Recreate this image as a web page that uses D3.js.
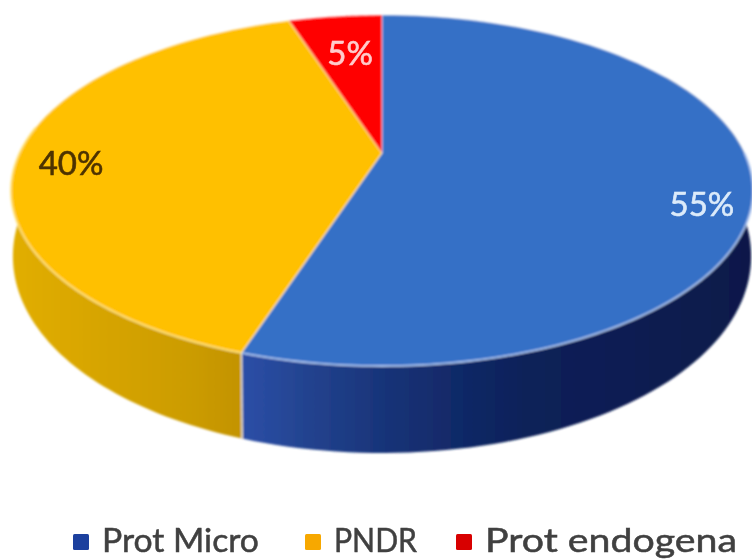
<!DOCTYPE html>
<html><head><meta charset="utf-8">
<script src="https://cdn.jsdelivr.net/npm/d3@7/dist/d3.min.js"></script>
<style>html,body{margin:0;padding:0;background:#fff}svg{display:block}text{font-family:Lato,sans-serif}</style>
</head><body><svg id="c" width="752" height="559"></svg>
<script>
const categories = ["Prot Micro","PNDR","Prot endogena"];
const values = [55,40,5];
const topColors = ["#3670c6","#ffc000","#ff0000"];
const rimColors = ["#a8c2ee","#ffe27a","#ff7a7a"];
const legendColors = ["#1f3f9e","#f7a800","#d80000"];
const labelColors = ["#dcebfa","#4d3200","#ffcccc"];

const svg = d3.select("#c");
const cx=382, cy=153, R=362.4, backA=167.5, k=-0.2137;
const lowScale=0.995;

function proj(a,r=1){ // a: clockwise from back of pie; r: fraction of radius
  const u=r*Math.sin(a), v=-r*Math.cos(a), w=1+k*v;
  return [cx+R*u/w, cy+backA*v/w];
}
function low(a){
  const p=proj(a), v=-Math.cos(a);
  return [cx+(p[0]-cx)*lowScale, cy+60+28*v+(p[1]-cy)*lowScale];
}
function samples(a0,a1,n=90){return d3.range(n+1).map(i=>a0+(a1-a0)*i/n);}
const line=d3.line();

const defs=svg.append("defs");
const f=defs.append("filter").attr("id","soft").attr("x","-5%").attr("y","-5%").attr("width","110%").attr("height","110%");
f.append("feGaussianBlur").attr("stdDeviation",0.9);
const f2=defs.append("filter").attr("id","softT").attr("x","-10%").attr("y","-30%").attr("width","120%").attr("height","160%");
f2.append("feGaussianBlur").attr("stdDeviation",0.6);

function grad(id,x1,x2,stops){
  const g=defs.append("linearGradient").attr("id",id).attr("gradientUnits","userSpaceOnUse")
    .attr("x1",x1).attr("x2",x2).attr("y1",0).attr("y2",0);
  stops.forEach(s=>g.append("stop").attr("offset",s[0]).attr("stop-color",s[1]));
}
grad("wall0",246,752,[[0,"#2b4ea6"],[0.12,"#23438f"],[0.3,"#163175"],[0.55,"#0c2159"],[1,"#07194a"]]);
grad("wall1",10,248,[[0,"#e2ae00"],[0.4,"#d6a400"],[0.75,"#cc9c00"],[1,"#c29200"]]);

const arcs=d3.pie().sort(null).value(d=>d)(values);
const g=svg.append("g").attr("filter","url(#soft)");

// side walls: only the slices that reach the front of the pie
const wallRange=[[Math.PI/3,arcs[0].endAngle],[arcs[1].startAngle,Math.PI*1.72]];
wallRange.forEach((r,i)=>{
  const a=samples(r[0],r[1]);
  g.append("path").attr("d",line(a.map(t=>proj(t)).concat(a.slice().reverse().map(low)))+"Z")
    .attr("fill",`url(#wall${i})`);
});
// seam between the two walls
const seam=arcs[0].endAngle;
g.append("path").attr("d",line([proj(seam),low(seam)])).attr("stroke","#e8e4d8").attr("stroke-width",1.6).attr("fill","none");

// top faces
arcs.forEach((d,i)=>{
  const a=samples(d.startAngle,d.endAngle);
  g.append("path").attr("d",line([[cx,cy]].concat(a.map(t=>proj(t))))+"Z")
    .attr("fill",topColors[i]).attr("stroke","#fff").attr("stroke-opacity",0.45).attr("stroke-width",1.2)
    .attr("stroke-linejoin","round");
});
// bright rim along the front edge
arcs.slice(0,2).forEach((d,i)=>{
  const a=samples(Math.max(d.startAngle,Math.PI/2.0),Math.min(d.endAngle,Math.PI*1.55));
  g.append("path").attr("d",line(a.map(t=>proj(t)))).attr("fill","none").attr("stroke",rimColors[i]).attr("stroke-width",1.8);
});

// data labels
const labelAnchor=[{a:1.896,r:0.876},{a:4.650,r:0.850},{a:6.138,r:0.699}];
const labels=svg.append("g").attr("filter","url(#softT)");
values.forEach((v,i)=>{
  const p=proj(labelAnchor[i].a,labelAnchor[i].r);
  labels.append("text").text(v+"%").attr("x",p[0]).attr("y",p[1]).attr("text-anchor","middle")
    .attr("dominant-baseline","central").attr("font-size",33).attr("fill",labelColors[i])
    .attr("stroke",labelColors[i]).attr("stroke-width",0.6);
});

// legend
const legendX=[73,305,456];
const legendW=[157,83,252];
const legend=svg.append("g").attr("filter","url(#softT)");
categories.forEach((c,i)=>{
  legend.append("rect").attr("x",legendX[i]).attr("y",534).attr("width",16).attr("height",16).attr("rx",1.5).attr("fill",legendColors[i]);
  legend.append("text").text(c).attr("x",legendX[i]+29).attr("y",552).attr("font-size",33).attr("fill","#404040")
    .attr("stroke","#404040").attr("stroke-width",0.5)
    .attr("textLength",legendW[i]).attr("lengthAdjust","spacingAndGlyphs");
});
</script></body></html>
